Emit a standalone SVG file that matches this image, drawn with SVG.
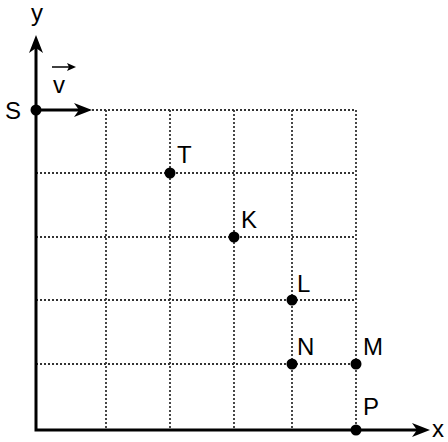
<svg xmlns="http://www.w3.org/2000/svg" width="448" height="442" viewBox="0 0 448 442">
<style>
.grid{stroke:#333;stroke-width:1.8;stroke-dasharray:2 2;fill:none}
.axis{stroke:#000;stroke-width:3;fill:none}
.dot{fill:#000}
.lbl{font-family:"Liberation Sans",Arial,sans-serif;font-size:24px;fill:#000}
</style>
<defs>
<marker id="ah" markerUnits="userSpaceOnUse" viewBox="0 0 18 14" markerWidth="18" markerHeight="14" refX="8" refY="7" orient="auto-start-reverse">
<path d="M0,0 L18,7 L0,14 L5,7 Z" fill="#000"/>
</marker>
</defs>
<g id="grid">
<line class="grid" x1="36" y1="110" x2="356" y2="110"/>
<line class="grid" x1="36" y1="173" x2="356" y2="173"/>
<line class="grid" x1="36" y1="237" x2="356" y2="237"/>
<line class="grid" x1="36" y1="300" x2="356" y2="300"/>
<line class="grid" x1="36" y1="364" x2="356" y2="364"/>
<line class="grid" x1="106" y1="110" x2="106" y2="430"/>
<line class="grid" x1="170" y1="110" x2="170" y2="430"/>
<line class="grid" x1="234" y1="110" x2="234" y2="430"/>
<line class="grid" x1="292" y1="110" x2="292" y2="430"/>
<line class="grid" x1="356" y1="110" x2="356" y2="430"/>
</g>
<g id="connectors">
<polyline class="axis" points="36,45 36,430 420,430" marker-start="url(#ah)" marker-end="url(#ah)" stroke-linejoin="miter"/>
<line class="axis" x1="36" y1="110" x2="82" y2="110" marker-end="url(#ah)"/>
<line x1="52" y1="67" x2="70" y2="67" stroke="#000" stroke-width="1.5"/>
<path d="M76,67 L67,63 L69,67 L67,71 Z" fill="#000"/>
</g>
<g id="axis-y"><text class="lbl" x="37" y="21" text-anchor="middle">y</text></g>
<g id="axis-x"><text class="lbl" x="432" y="437" font-size="23">x</text></g>
<g id="v"><text class="lbl" x="53" y="93">v</text></g>
<g id="S"><circle class="dot" cx="36" cy="110" r="5.5"/><text class="lbl" x="5" y="119">S</text></g>
<g id="T"><circle class="dot" cx="170" cy="173" r="5.5"/><text class="lbl" x="177" y="163">T</text></g>
<g id="K"><circle class="dot" cx="234" cy="237" r="5.5"/><text class="lbl" x="241" y="228">K</text></g>
<g id="L"><circle class="dot" cx="292" cy="300" r="5.5"/><text class="lbl" x="297" y="292">L</text></g>
<g id="N"><circle class="dot" cx="292" cy="364" r="5.5"/><text class="lbl" x="297" y="355">N</text></g>
<g id="M"><circle class="dot" cx="356" cy="364" r="5.5"/><text class="lbl" x="363" y="355">M</text></g>
<g id="P"><circle class="dot" cx="356" cy="430" r="5.5"/><text class="lbl" x="363" y="415">P</text></g>
</svg>
